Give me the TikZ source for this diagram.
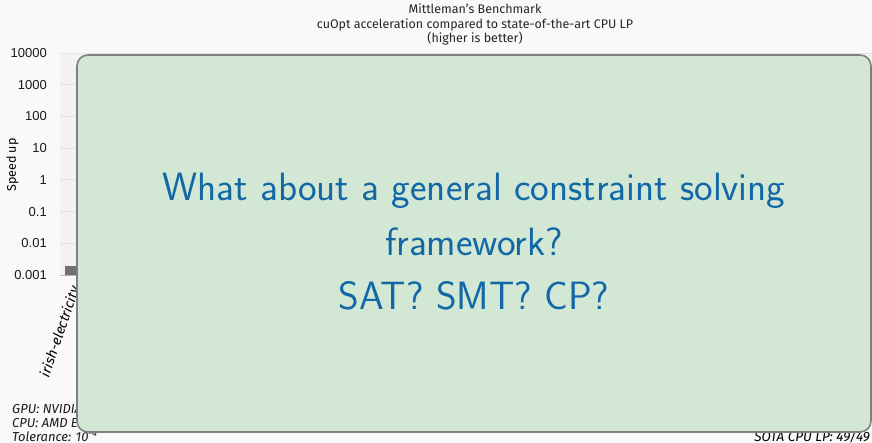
\documentclass[tikz,border=0pt]{standalone}
\usepackage{fontspec}
\newfontfamily\chartfont{Fira Sans}
\newfontfamily\tickfont{Liberation Sans}
\definecolor{pagebg}{RGB}{249,249,249}
\definecolor{plotbg}{RGB}{242,242,242}
\definecolor{gridc}{RGB}{228,228,228}
\definecolor{barc}{RGB}{112,112,112}
\definecolor{boxfill}{RGB}{211,232,212}
\definecolor{boxline}{RGB}{128,128,128}
\definecolor{msgblue}{RGB}{18,104,166}
\tikzset{
  titletext/.style={font=\chartfont\fontsize{12.5}{14}\selectfont, text=black!85, inner sep=0pt, anchor=base},
  ticklabel/.style={font=\tickfont\fontsize{13}{14}\selectfont, anchor=east, inner sep=0pt, text=black!90},
  note/.style={font=\chartfont\itshape\fontsize{13}{14}\selectfont, anchor=base west, inner sep=0pt, text=black!90},
  gridline/.style={draw=gridc, line width=0.8pt},
  msgbox/.style={draw=boxline, line width=1.6pt, fill=boxfill, rounded corners=11pt},
  msgtext/.style={font=\sffamily\fontsize{39.5}{54.5}\selectfont, text=msgblue, anchor=base, inner sep=0pt}
}
\begin{document}
\begin{tikzpicture}[x=1pt,y=-1pt]
\useasboundingbox (0,0) rectangle (872,443);
\fill[pagebg] (0,0) rectangle (872,443);
% titles
\node[titletext] (t1) at (475,14) {Mittleman’s Benchmark};
\node[titletext] (t2) at (475,28.5) {cuOpt acceleration compared to state-of-the-art CPU LP};
\node[titletext] (t3) at (475,43) {(higher is better)};
% plot area
\fill[plotbg] (60,53) rectangle (872,275);
\foreach \yy in {53,84.7,116.4,148.1,179.9,211.6,243.3}{
  \draw[gridline] (60,\yy) -- (872,\yy);
}
\draw[draw=gridc!80!black, line width=0.8pt] (60,275) -- (872,275);
% tick labels
\node[ticklabel] (y1) at (47,53) {10000};
\node[ticklabel] (y2) at (47,84.7) {1000};
\node[ticklabel] (y3) at (47,116.4) {100};
\node[ticklabel] (y4) at (47,148.1) {10};
\node[ticklabel] (y5) at (47,179.9) {1};
\node[ticklabel] (y6) at (47,211.6) {0.1};
\node[ticklabel] (y7) at (47,243.3) {0.01};
\node[ticklabel] (y8) at (47,275) {0.001};
\node[font=\chartfont\fontsize{12.5}{14}\selectfont, rotate=90, inner sep=0pt] (ylab) at (12.5,165) {Speed up};
% bar
\fill[barc] (65,266) rectangle (82,275);
% category label
\node[font=\chartfont\itshape\fontsize{14}{16}\selectfont, rotate=71, anchor=east, inner sep=0pt] (cat) at (76,287) {irish-electricity};
% notes
\node[note] (n1) at (12,413) {GPU: NVIDIA H100};
\node[note] (n2) at (12,427) {CPU: AMD EPYC};
\node[note] (n3) at (12,441) {Tolerance: 10\textsuperscript{-4}};
\node[font=\chartfont\itshape\fontsize{13.5}{14}\selectfont, anchor=base east, inner sep=0pt] (n4) at (870,441) {SOTA CPU LP: 49/49};
% message box
\draw[msgbox] (77,55) rectangle (871,432);
\node[msgtext] (msg1) at (474,201) {What about a general constraint solving};
\node[msgtext] (msg2) at (474,255.5) {framework?};
\node[msgtext] (msg3) at (474,310) {SAT? SMT? CP?};
\end{tikzpicture}
\end{document}
